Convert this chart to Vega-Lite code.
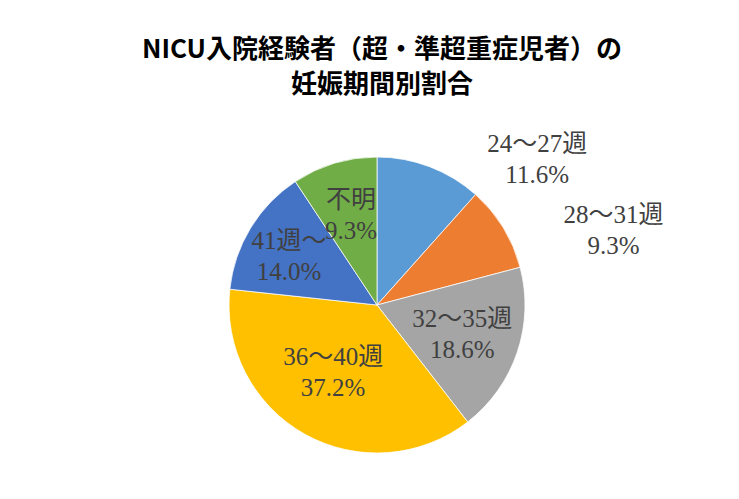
{
  "$schema": "https://vega.github.io/schema/vega-lite/v6.json",
  "width": 300,
  "height": 300,
  "autosize": {"type": "none"},
  "padding": {"left": 227, "top": 155, "right": 212, "bottom": 44},
  "background": "white",
  "config": {"view": {"stroke": null}},
  "title": {
    "text": ["NICU入院経験者（超・準超重症児者）の", "妊娠期間別割合"],
    "font": "Noto Sans CJK JP",
    "fontSize": 26,
    "fontWeight": "bold",
    "color": "#000000",
    "anchor": "middle",
    "lineHeight": 35,
    "offset": 34,
    "dx": 5
  },
  "data": {
    "values": [
      {"category": "24～27週", "pct": 11.6},
      {"category": "28～31週", "pct": 9.3},
      {"category": "32～35週", "pct": 18.6},
      {"category": "36～40週", "pct": 37.2},
      {"category": "41週～", "pct": 14.0},
      {"category": "不明", "pct": 9.3}
    ]
  },
  "transform": [
    {"stack": "pct", "groupby": [], "sort": [{"field": "category", "order": "ascending"}], "as": ["t0", "t1"]},
    {"calculate": "(datum.t0 + datum.t1) / 2", "as": "tmid"},
    {"calculate": "[datum.category, format(datum.pct, '.1f') + '%']", "as": "label"}
  ],
  "layer": [
    {
      "mark": {"type": "arc", "outerRadius": 148, "stroke": "white", "strokeWidth": 0.75},
      "encoding": {
        "theta": {"field": "t0", "type": "quantitative", "scale": {"domain": [0, 100]}},
        "theta2": {"field": "t1"},
        "color": {
          "field": "category",
          "type": "nominal",
          "scale": {
            "domain": ["24～27週", "28～31週", "32～35週", "36～40週", "41週～", "不明"],
            "range": ["#5B9BD5", "#ED7D31", "#A5A5A5", "#FFC000", "#4472C4", "#70AD47"]
          },
          "legend": null
        }
      }
    },
    {
      "transform": [{"filter": "datum.category == '32～35週'"}],
      "mark": {"type": "text", "radius": 90, "dy": -15, "font": "Liberation Serif, Noto Sans CJK JP", "fontSize": 25, "lineHeight": 31, "color": "#404040", "align": "center", "baseline": "middle"},
      "encoding": {
        "theta": {"field": "tmid", "type": "quantitative", "scale": {"domain": [0, 100]}},
        "text": {"field": "label"}
      }
    },
    {
      "transform": [{"filter": "datum.category == '不明'"}],
      "mark": {"type": "text", "radius": 90, "dy": -19, "font": "Liberation Serif, Noto Sans CJK JP", "fontSize": 25, "lineHeight": 31, "color": "#404040", "align": "center", "baseline": "middle"},
      "encoding": {
        "theta": {"field": "tmid", "type": "quantitative", "scale": {"domain": [0, 100]}},
        "text": {"field": "label"}
      }
    },
    {
      "transform": [{"filter": "datum.category == '36～40週'"}],
      "mark": {"type": "text", "radius": 90, "dy": -27, "font": "Liberation Serif, Noto Sans CJK JP", "fontSize": 25, "lineHeight": 31, "color": "#404040", "align": "center", "baseline": "middle"},
      "encoding": {
        "theta": {"field": "tmid", "type": "quantitative", "scale": {"domain": [0, 100]}},
        "text": {"field": "label"}
      }
    },
    {
      "transform": [{"filter": "datum.category == '41週～'"}],
      "mark": {"type": "text", "radius": 90, "dx": -11, "dy": -17, "font": "Liberation Serif, Noto Sans CJK JP", "fontSize": 25, "lineHeight": 31, "color": "#404040", "align": "center", "baseline": "middle"},
      "encoding": {
        "theta": {"field": "tmid", "type": "quantitative", "scale": {"domain": [0, 100]}},
        "text": {"field": "label"}
      }
    },
    {
      "transform": [{"filter": "datum.category == '24～27週'"}],
      "mark": {"type": "text", "radius": 180, "dx": 96, "dy": 7, "font": "Liberation Serif, Noto Sans CJK JP", "fontSize": 25, "lineHeight": 31, "color": "#404040", "align": "center", "baseline": "middle"},
      "encoding": {
        "theta": {"field": "tmid", "type": "quantitative", "scale": {"domain": [0, 100]}},
        "text": {"field": "label"}
      }
    },
    {
      "transform": [{"filter": "datum.category == '28～31週'"}],
      "mark": {"type": "text", "radius": 180, "dx": 83, "dy": 4, "font": "Liberation Serif, Noto Sans CJK JP", "fontSize": 25, "lineHeight": 31, "color": "#404040", "align": "center", "baseline": "middle"},
      "encoding": {
        "theta": {"field": "tmid", "type": "quantitative", "scale": {"domain": [0, 100]}},
        "text": {"field": "label"}
      }
    }
  ]
}
